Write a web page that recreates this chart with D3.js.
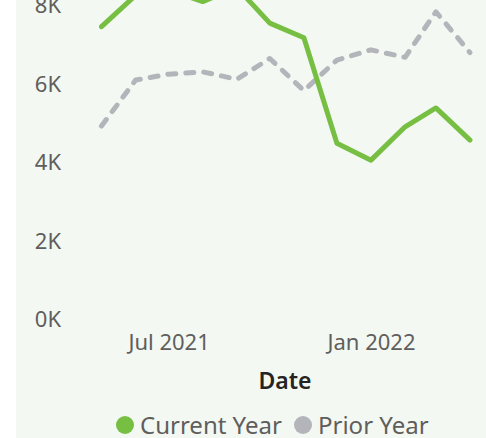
<!DOCTYPE html>
<html>
<head>
<meta charset="utf-8">
<script src="https://cdn.jsdelivr.net/npm/d3@7"></script>
<style>
  html, body { margin: 0; padding: 0; background: #fff; }
  svg { display: block; font-family: "Segoe UI", "Noto Sans", sans-serif; }
</style>
</head>
<body>
<svg id="chart" width="486" height="438"></svg>
<script>
// monthly values, May 2021 .. Apr 2022
var months = ["2021-05", "2021-06", "2021-07", "2021-08", "2021-09", "2021-10",
              "2021-11", "2021-12", "2022-01", "2022-02", "2022-03", "2022-04"]
var currentYear = [7460, 8260, 8400, 8100, 8460, 7550, 7180, 4490, 4060, 4910, 5390, 4570]
var priorYear   = [4930, 6100, 6250, 6310, 6120, 6650, 5830, 6610, 6870, 6680, 7840, 6800]
var yTicks = [0, 2000, 4000, 6000, 8000]
var xTicks = ["2021-07", "2022-01"]
var seriesNames = ["Current Year", "Prior Year"]

var green = "#77bf43"
var grey = "#b4b5ba"
var parse = d3.timeParse("%Y-%m")

var svg = d3.select("#chart")

// panel background
svg.append("rect")
    .attr("x", 16).attr("y", 0)
    .attr("width", 470).attr("height", 438)
    .attr("fill", "#f3f8f2")

var x = d3.scaleTime()
    .domain([parse(months[0]), parse(months[months.length - 1])])
    .range([101.5, 470])

var y = d3.scaleLinear()
    .domain([0, 8000])
    .range([319.5, 5.5])

// y axis labels
var yAxis = svg.append("g")
    .attr("transform", "translate(61,0)")
    .call(d3.axisLeft(y).tickValues(yTicks).tickSize(0).tickPadding(0)
        .tickFormat(function(d) { return d / 1000 + "K" }))
yAxis.select(".domain").remove()
yAxis.selectAll("text")
    .attr("dy", "0.34em")
    .attr("fill", "#605e5c")
    .style("font-size", "22px")
    .style("font-family", "'Segoe UI', 'Noto Sans', sans-serif")

// x axis labels
var xAxis = svg.append("g")
    .attr("transform", "translate(0,350)")
    .call(d3.axisBottom(x).tickValues(xTicks.map(parse)).tickSize(0).tickPadding(0)
        .tickFormat(d3.timeFormat("%b %Y")))
xAxis.select(".domain").remove()
xAxis.selectAll("text")
    .attr("y", 0).attr("dy", 0)
    .attr("fill", "#605e5c")
    .style("font-size", "22px")
    .style("font-family", "'Segoe UI', 'Noto Sans', sans-serif")

svg.append("text")
    .attr("x", 285).attr("y", 389)
    .attr("text-anchor", "middle")
    .attr("fill", "#252423")
    .style("font-size", "23px")
    .style("font-weight", "600")
    .text("Date")

var line = d3.line()
    .x(function(d, i) { return x(parse(months[i])) })
    .y(function(d) { return y(d) })

svg.append("path")
    .datum(priorYear)
    .attr("d", line)
    .attr("fill", "none")
    .attr("stroke", grey)
    .attr("stroke-width", 5)
    .attr("stroke-dasharray", "8,10")
    .attr("stroke-linecap", "round")
    .attr("stroke-linejoin", "round")

svg.append("path")
    .datum(currentYear)
    .attr("d", line)
    .attr("fill", "none")
    .attr("stroke", green)
    .attr("stroke-width", 5)
    .attr("stroke-linecap", "round")
    .attr("stroke-linejoin", "round")

// legend
var legendX = [125, 303]
var legend = svg.selectAll(".legend")
    .data(seriesNames)
    .enter().append("g")
    .attr("class", "legend")
    .attr("transform", function(d, i) { return "translate(" + legendX[i] + ",425)" })
legend.append("circle")
    .attr("r", 9)
    .attr("fill", function(d, i) { return i ? grey : green })
legend.append("text")
    .attr("x", 15).attr("y", 9)
    .attr("fill", "#605e5c")
    .style("font-size", "24px")
    .text(function(d) { return d })
</script>
</body>
</html>
